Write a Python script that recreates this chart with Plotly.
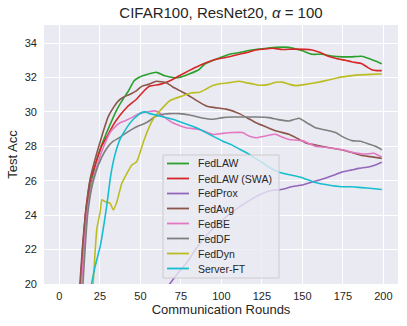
import plotly.graph_objects as go

# rounds / test accuracy, per method
fedlaw_x = [13, 14.8, 16.5, 18.2, 20, 23, 27, 31, 35, 39, 42.5, 46, 49, 55, 60, 65, 70, 74, 80, 86, 90, 99, 105, 111, 116, 121, 128, 133.5, 141.7, 146, 150, 156, 162, 168, 174.4, 180, 186.7, 191, 195, 199]
fedlaw_y = [19.8, 22.2, 24, 25.2, 26, 27.2, 28.3, 29.2, 30.05, 30.7, 31.2, 31.8, 32.0, 32.2, 32.3, 32.1, 32.0, 32.0, 32.2, 32.45, 32.8, 33.15, 33.35, 33.45, 33.55, 33.63, 33.7, 33.75, 33.75, 33.65, 33.55, 33.35, 33.35, 33.25, 33.2, 33.2, 33.23, 33.1, 32.96, 32.8]

swa_x = [12.9, 14.4, 16, 17.5, 19, 21, 22.7, 26, 29, 33, 37.4, 42, 47.7, 52, 55.8, 62, 68, 74, 80, 86.5, 93, 99, 105, 111, 116, 121, 126, 131.5, 137.6, 145, 156, 161, 166, 171, 176.5, 181, 186.7, 190, 192.8, 196, 199]
swa_y = [19.8, 22.1, 24, 25.1, 26, 26.6, 27.1, 28, 28.5, 29.2, 29.8, 30.3, 30.75, 31.2, 31.5, 31.6, 31.8, 32.1, 32.4, 32.7, 32.95, 33.1, 33.2, 33.35, 33.45, 33.6, 33.65, 33.7, 33.63, 33.65, 33.6, 33.45, 33.23, 33.1, 33.0, 32.9, 32.8, 32.6, 32.45, 32.4, 32.4]

prox_x = [67, 72, 78.3, 84, 90.6, 98, 106.9, 113, 119.2, 125, 131.5, 135.6, 139.7, 143, 149.9, 158, 164, 170.4, 174.4, 180.6, 184.7, 190.8, 195, 199]
prox_y = [19.87, 20.5, 21.2, 22.0, 22.8, 23.5, 24.2, 24.6, 24.96, 25.25, 25.45, 25.48, 25.55, 25.65, 25.75, 25.98, 26.15, 26.37, 26.5, 26.63, 26.72, 26.8, 26.92, 27.08]

avg_x = [12.5, 14.2, 16, 17.5, 19, 21.3, 24, 27.2, 30, 33.3, 36, 39.4, 43, 47.7, 51, 54.8, 59.9, 63, 66, 70, 74, 78.3, 84, 90.6, 96, 102.9, 111, 116, 121.3, 127, 133.5, 141.7, 147, 152, 157, 162, 168, 174.4, 180, 186.7, 192, 199]
avg_y = [19.8, 22.1, 24, 25.2, 26.1, 27.0, 27.9, 28.9, 29.7, 30.25, 30.6, 30.85, 31.0, 31.24, 31.5, 31.6, 31.78, 31.75, 31.7, 31.45, 31.25, 31.04, 30.7, 30.35, 30.25, 30.16, 29.9, 29.65, 29.37, 29.15, 28.9, 28.7, 28.45, 28.2, 28.1, 28.0, 27.9, 27.8, 27.65, 27.47, 27.4, 27.3]

be_x = [13.5, 15.3, 17, 18.5, 20, 23.3, 27, 31.3, 34, 37.4, 41, 44.6, 48, 51.7, 55, 58, 61, 64, 70, 78.3, 86.5, 94.7, 100.8, 106.9, 113, 117, 121.3, 127, 133.5, 137, 141.7, 149.9, 158, 164, 170.4, 175, 180.6, 188.8, 194, 199]
be_y = [19.8, 22.1, 24, 25.0, 25.8, 26.9, 27.9, 28.8, 29.1, 29.37, 29.5, 29.67, 29.85, 29.96, 30.0, 30.06, 30.0, 29.76, 29.37, 29.08, 28.98, 28.69, 28.75, 28.8, 28.8, 28.6, 28.5, 28.6, 28.7, 28.55, 28.4, 28.33, 28.0, 27.95, 27.86, 27.8, 27.66, 27.55, 27.6, 27.38]

df_x = [14.4, 15.9, 17.4, 19, 20.7, 24, 28, 31, 33.3, 37, 41.5, 45, 48.7, 52, 55.8, 58, 63, 68, 74, 80.4, 88, 94.7, 100.8, 107, 114, 121.3, 129.4, 135, 141.7, 147.9, 153, 158, 164, 170.4, 175, 180.6, 186, 190.8, 195, 199]
df_y = [19.8, 22.1, 24, 25.1, 25.9, 26.9, 27.7, 28.1, 28.3, 28.5, 28.8, 29.0, 29.18, 29.3, 29.5, 29.67, 29.85, 29.9, 29.9, 29.82, 29.65, 29.57, 29.67, 29.7, 29.7, 29.7, 29.67, 29.55, 29.47, 29.63, 29.35, 29.08, 28.95, 28.8, 28.55, 28.33, 28.3, 28.14, 28.0, 27.8]

dyn_x = [20.7, 22, 23.1, 25.2, 26.2, 28, 31.3, 33.3, 35.4, 38.5, 41.5, 44.6, 47.7, 49.7, 52, 55.8, 58, 62, 68.1, 76.3, 81, 86.5, 90, 94.7, 100, 105, 111, 115, 119.2, 123, 129.4, 133.5, 137.6, 142, 145.8, 152, 160.1, 166, 172.4, 178, 184.7, 192, 199]
dyn_y = [19.8, 21.8, 23.2, 24.2, 24.9, 24.8, 24.7, 24.3, 24.76, 25.84, 26.4, 26.9, 27.1, 27.6, 28.3, 29.2, 29.6, 30.06, 30.65, 30.94, 31.1, 31.14, 31.3, 31.53, 31.65, 31.7, 31.78, 31.7, 31.63, 31.55, 31.6, 31.72, 31.73, 31.6, 31.53, 31.6, 31.73, 31.85, 32.0, 32.08, 32.15, 32.18, 32.2]

ft_x = [19.4, 22, 25.2, 29.3, 31.5, 34, 37.4, 41, 45.6, 50.7, 53, 55.8, 62, 70, 76, 84.5, 92.6, 100.8, 106, 111, 116, 121, 126, 131, 135.6, 142, 149.9, 158, 166, 174.4, 180.6, 186.7, 193, 199]
ft_y = [19.8, 21, 22.2, 24.6, 26.2, 27.4, 28.4, 29.0, 29.57, 29.96, 30.0, 29.9, 29.76, 29.57, 29.37, 29.08, 28.69, 28.3, 28.1, 27.85, 27.6, 27.3, 27.0, 26.7, 26.5, 26.35, 26.18, 25.9, 25.75, 25.65, 25.65, 25.6, 25.55, 25.49]

series = [
    ("FedLAW", fedlaw_x, fedlaw_y, "#2ca02c"),
    ("FedLAW (SWA)", swa_x, swa_y, "#d62728"),
    ("FedProx", prox_x, prox_y, "#9467bd"),
    ("FedAvg", avg_x, avg_y, "#8c564b"),
    ("FedBE", be_x, be_y, "#e377c2"),
    ("FedDF", df_x, df_y, "#7f7f7f"),
    ("FedDyn", dyn_x, dyn_y, "#bcbd22"),
    ("Server-FT", ft_x, ft_y, "#17becf"),
]

fig = go.Figure()
for name, xs, ys, col in series:
    fig.add_trace(go.Scatter(x=xs, y=ys, mode="lines", name=name,
                             line=dict(color=col, width=1.6, shape="spline", smoothing=0.4),
                             showlegend=False))

# legend box drawn by hand (plotly's own legend rows are too tall here)
ph = 259.0
def py(p):
    return (284 - p) / ph
def px(p):
    return (p - 44) / 354.0

fig.add_shape(type="rect", xref="paper", yref="paper",
              x0=px(163), x1=px(279), y0=py(278), y1=py(155),
              fillcolor="rgba(234,234,242,0.8)", line=dict(color="#cccccc", width=1), layer="above")
for i, (name, xs, ys, col) in enumerate(series):
    yy = py(163.5 + 15 * i)
    fig.add_shape(type="line", xref="paper", yref="paper", x0=px(167), x1=px(189),
                  y0=yy, y1=yy, line=dict(color=col, width=1.8), layer="above")
    fig.add_annotation(xref="paper", yref="paper", x=px(196), y=yy, text=name,
                       showarrow=False, xanchor="left", yanchor="middle",
                       font=dict(size=10.5, color="#262626"))

font = "Liberation Sans, Arial, sans-serif"
fig.update_layout(
    width=407, height=326,
    margin=dict(l=44, r=9, t=25, b=42, autoexpand=False),
    paper_bgcolor="white", plot_bgcolor="#EAEAF2",
    font=dict(family=font, color="#262626", size=11),
    title=dict(text="CIFAR100, ResNet20, <i>α</i> = 100", x=0.543, xanchor="center",
               y=0.96, yanchor="middle", font=dict(size=15, color="#262626")),
    showlegend=False,
)
fig.update_xaxes(range=[-9.5, 209], tickvals=[0, 25, 50, 75, 100, 125, 150, 175, 200],
                 showgrid=True, gridcolor="white", gridwidth=1, zeroline=False, showline=False,
                 ticks="", ticklabelstandoff=4, tickfont=dict(size=11), automargin=False,
                 title=dict(text="Communication Rounds", font=dict(size=13), standoff=2))
fig.update_yaxes(range=[20, 35.05], tickvals=[20, 22, 24, 26, 28, 30, 32, 34],
                 showgrid=True, gridcolor="white", gridwidth=1, zeroline=False, showline=False,
                 ticks="", ticklabelstandoff=6, tickfont=dict(size=11), automargin=False,
                 title=dict(text="Test Acc", font=dict(size=13), standoff=4))

fig.write_html("out.html", config={"displayModeBar": False},
               post_script="document.body.style.margin='0px';")
